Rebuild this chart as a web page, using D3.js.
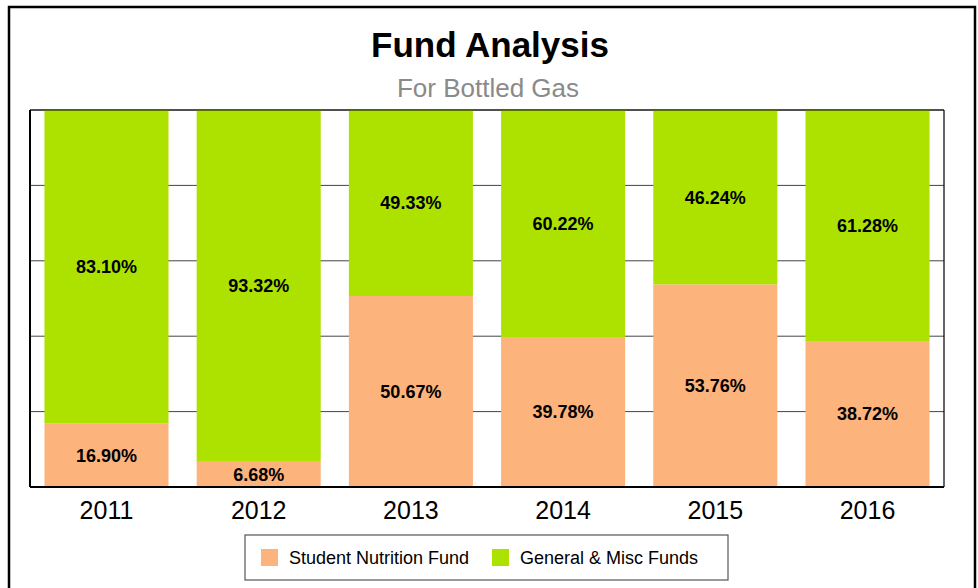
<!DOCTYPE html>
<html>
<head>
<meta charset="utf-8">
<script src="https://cdn.jsdelivr.net/npm/d3@7"></script>
<style>
  body { margin: 0; background: #fff; }
  svg { display: block; font-family: "Liberation Sans", Arial, sans-serif; }
</style>
</head>
<body>
<svg id="chart"></svg>
<script>
const years = ['2011', '2012', '2013', '2014', '2015', '2016'];
const studentNutrition = [16.90, 6.68, 50.67, 39.78, 53.76, 38.72];
const generalMisc = [83.10, 93.32, 49.33, 60.22, 46.24, 61.28];
const seriesNames = ['Student Nutrition Fund', 'General & Misc Funds'];
const seriesColors = ['#fdb37c', '#ade200'];
const yTicks = [0, 20, 40, 60, 80, 100];

const width = 978, height = 588;
const margin = { top: 110, right: 34, bottom: 101, left: 30 };
const innerW = width - margin.left - margin.right;
const innerH = height - margin.top - margin.bottom;

const svg = d3.select('#chart')
  .attr('width', width)
  .attr('height', height);

// outer frame
svg.append('rect')
  .attr('x', 9).attr('y', 7)
  .attr('width', 966).attr('height', 600)
  .attr('fill', '#fff')
  .attr('stroke', '#000')
  .attr('stroke-width', 2.5);

// titles
svg.append('text')
  .attr('x', 490).attr('y', 57)
  .attr('text-anchor', 'middle')
  .attr('font-size', 35)
  .attr('font-weight', 'bold')
  .attr('fill', '#000')
  .text('Fund Analysis');

svg.append('text')
  .attr('x', 488).attr('y', 97)
  .attr('text-anchor', 'middle')
  .attr('font-size', 26)
  .attr('fill', '#8a8a8a')
  .text('For Bottled Gas');

const g = svg.append('g')
  .attr('transform', `translate(${margin.left},${margin.top})`);

const x = d3.scaleBand()
  .domain(years)
  .range([0, innerW])
  .paddingInner(0.185)
  .paddingOuter(0.095);

const y = d3.scaleLinear()
  .domain([0, 100])
  .range([innerH, 0]);

// gridlines
g.append('g')
  .selectAll('line')
  .data(yTicks)
  .join('line')
  .attr('x1', 0).attr('x2', innerW)
  .attr('y1', d => y(d)).attr('y2', d => y(d))
  .attr('stroke', '#444')
  .attr('stroke-width', 1);

// stacked bars
const rows = years.map((yr, i) => ({ year: yr, s0: studentNutrition[i], s1: generalMisc[i] }));
const stack = d3.stack().keys(['s0', 's1']);
const layers = stack(rows);

const layerG = g.selectAll('.layer')
  .data(layers)
  .join('g')
  .attr('class', 'layer')
  .attr('fill', (d, i) => seriesColors[i]);

layerG.selectAll('rect')
  .data(d => d)
  .join('rect')
  .attr('x', d => x(d.data.year))
  .attr('width', x.bandwidth())
  .attr('y', d => y(d[1]))
  .attr('height', d => y(d[0]) - y(d[1]));

layerG.selectAll('text')
  .data((d, i) => d.map(v => ({ v, key: d.key })))
  .join('text')
  .attr('x', d => x(d.v.data.year) + x.bandwidth() / 2)
  .attr('y', d => y((d.v[0] + d.v[1]) / 2))
  .attr('dy', '0.36em')
  .attr('text-anchor', 'middle')
  .attr('font-size', 18)
  .attr('font-weight', 'bold')
  .attr('fill', '#000')
  .text(d => d.v.data[d.key].toFixed(2) + '%');

// plot border
g.append('line').attr('x1', 0).attr('x2', 0).attr('y1', 0).attr('y2', innerH)
  .attr('stroke', '#000').attr('stroke-width', 2);
g.append('line').attr('x1', innerW).attr('x2', innerW).attr('y1', 0).attr('y2', innerH)
  .attr('stroke', '#000').attr('stroke-width', 1.2);
g.append('line').attr('x1', 0).attr('x2', innerW).attr('y1', 0).attr('y2', 0)
  .attr('stroke', '#000').attr('stroke-width', 1.2);
g.append('line').attr('x1', 0).attr('x2', innerW).attr('y1', innerH).attr('y2', innerH)
  .attr('stroke', '#000').attr('stroke-width', 2);

// x axis labels
const xAxis = g.append('g')
  .attr('transform', `translate(0,${innerH})`)
  .call(d3.axisBottom(x).tickSize(0).tickPadding(14));
xAxis.select('.domain').remove();
xAxis.selectAll('text')
  .attr('font-family', '"Liberation Sans", Arial, sans-serif')
  .attr('font-size', 25)
  .attr('fill', '#000');

// legend
const legend = svg.append('g').attr('transform', 'translate(245,535)');
legend.append('rect')
  .attr('width', 483).attr('height', 45)
  .attr('fill', '#fff')
  .attr('stroke', '#555')
  .attr('stroke-width', 1.2);
const legendX = [16, 247];
seriesNames.forEach((name, i) => {
  legend.append('rect')
    .attr('x', legendX[i]).attr('y', 14)
    .attr('width', 17).attr('height', 17)
    .attr('fill', seriesColors[i]);
  legend.append('text')
    .attr('x', legendX[i] + 28).attr('y', 22.5)
    .attr('dy', '0.36em')
    .attr('font-size', 18)
    .attr('fill', '#000')
    .text(name);
});
</script>
</body>
</html>
